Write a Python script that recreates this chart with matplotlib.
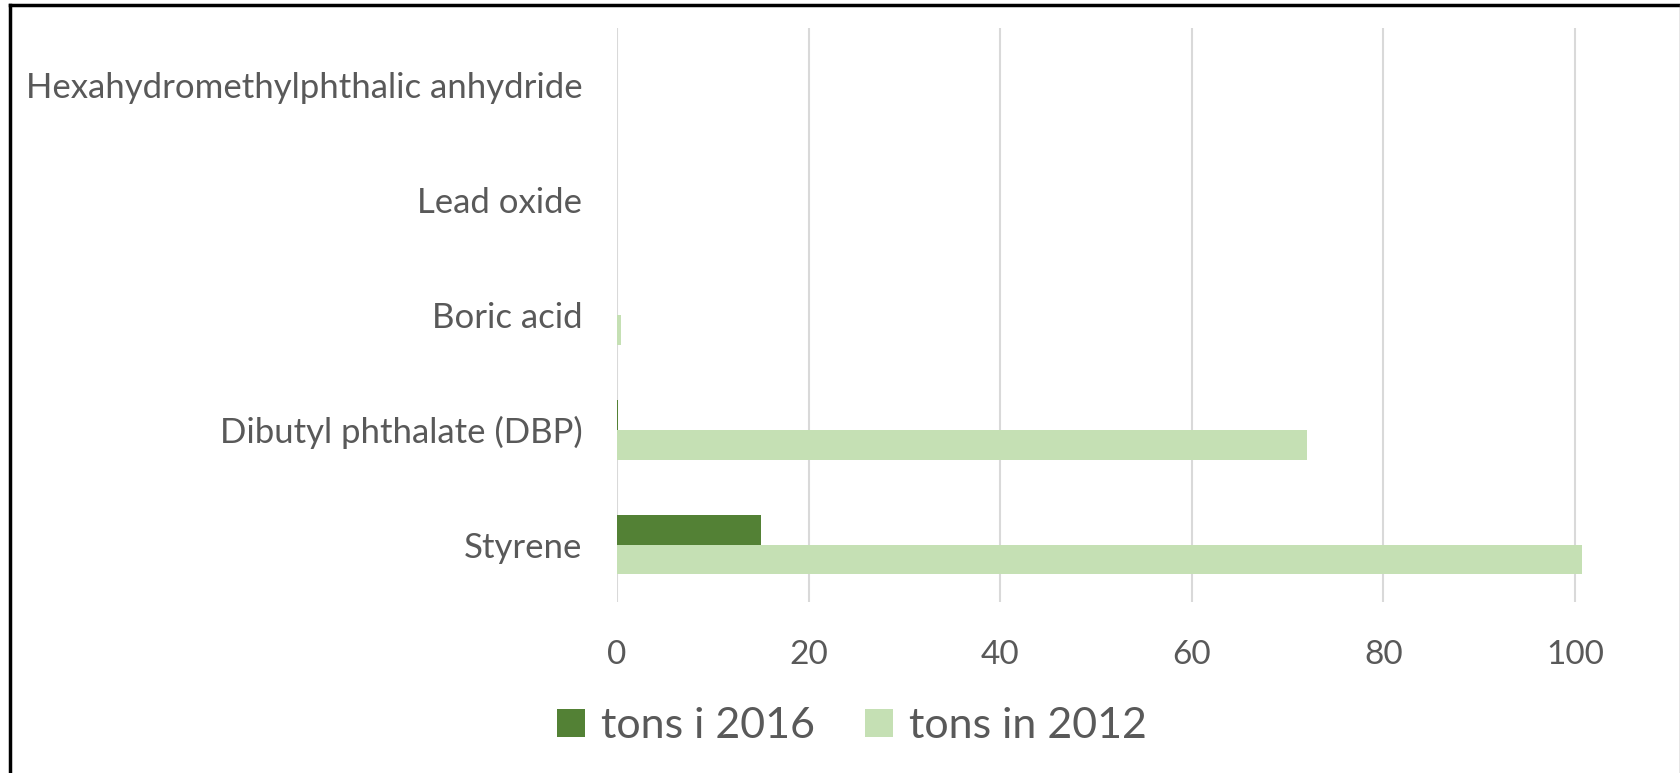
import numpy as np
import matplotlib
matplotlib.use("Agg")
import matplotlib.pyplot as plt
from matplotlib.lines import Line2D

# ── Data ──────────────────────────────────────────────────────────────────────
categories = ["Styrene", "Dibutyl phthalate (DBP)", "Boric acid",
              "Lead oxide", "Hexahydromethylphthalic anhydride"]
tons_2016 = [15.0, 0.1, 0.0, 0.0, 0.0]
tons_2012 = [100.7, 72.0, 0.45, 0.05, 0.0]
x_ticks = [0, 20, 40, 60, 80, 100]

# ── Style ─────────────────────────────────────────────────────────────────────
DARK = "#538135"
LIGHT = "#C5E0B4"
TEXT = "#595959"
GRID = "#D9D9D9"
plt.rcParams["font.family"] = ["Lato", "DejaVu Sans"]

W, H = 1681, 773
fig = plt.figure(figsize=(W / 100, H / 100), dpi=100)
ax = fig.add_axes([617 / W, 1 - 602 / H, (1584.6 - 617) / W, (602 - 28) / H])

y = np.arange(len(categories))
h = 0.26
ax.barh(y + h / 2, tons_2016, height=h, color=DARK, label="tons i 2016", zorder=3)
ax.barh(y - h / 2, tons_2012, height=h, color=LIGHT, label="tons in 2012", zorder=3)

ax.set_ylim(-0.5, len(categories) - 0.5)
ax.set_xlim(0, 101)
ax.set_xticks(x_ticks)
ax.set_yticks(y)
ax.set_yticklabels(categories)
ax.tick_params(axis="y", length=0, pad=25, labelsize=25, labelcolor=TEXT)
ax.tick_params(axis="x", length=0, pad=27, labelsize=24, labelcolor=TEXT)
ax.grid(axis="x", color=GRID, linewidth=1.5, zorder=0)
for s in ax.spines.values():
    s.set_visible(False)

fig.legend(loc="center", bbox_to_anchor=(852 / W, 1 - 726 / H), ncol=2,
           frameon=False, fontsize=31, labelcolor=TEXT, handlelength=0.65,
           handleheight=0.65, handletextpad=0.37, columnspacing=1.15)

# outer frame
fig.add_artist(Line2D([10 / W, 10 / W], [0, 1 - 5 / H], color="black", linewidth=2.5,
                      transform=fig.transFigure))
fig.add_artist(Line2D([10 / W, 1680 / W], [1 - 5 / H, 1 - 5 / H], color="black",
                      linewidth=2.5, transform=fig.transFigure))
fig.add_artist(Line2D([1680 / W, 1680 / W], [0, 1 - 5 / H], color="#808080", linewidth=1,
                      transform=fig.transFigure))

fig.savefig("out.png", dpi=100)
